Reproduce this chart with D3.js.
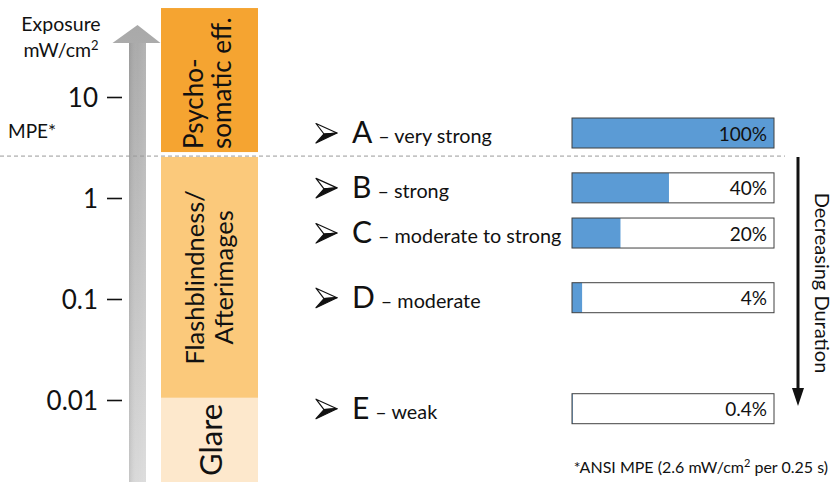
<!DOCTYPE html>
<html>
<head>
<meta charset="utf-8">
<script src="https://cdn.jsdelivr.net/npm/d3@7"></script>
<style>
  html, body { margin: 0; padding: 0; background: #fff; }
  svg { display: block; font-family: Lato, "Open Sans", sans-serif; }
</style>
</head>
<body>
<script>
// ---- data ----
const tickValues = [10, 1, 0.1, 0.01];
const tickLabels = ["10", "1", "0.1", "0.01"];
const mpeValue = 2.6;

const zoneLines = [["Psycho-", "somatic eff."], ["Flashblindness/", "Afterimages"], ["Glare"]];
const zoneHigh = [76, 2.55, 0.0105];
const zoneLow = [2.85, 0.0105, 0.0015];
const zoneColors = ["#F5A431", "#FBC97B", "#FDE8CC"];

const levelLetters = ["A", "B", "C", "D", "E"];
const levelNames = ["very strong", "strong", "moderate to strong", "moderate", "weak"];
const levelExposure = [4.4, 1.26, 0.45, 0.103, 0.0082];
const barLabels = ["100%", "40%", "20%", "4%", "0.4%"];
const barFill = [100, 48, 24, 5, 0.4];

// ---- chart ----
const W = 834, H = 482;
const svg = d3.select("body").append("svg").attr("width", W).attr("height", H);

const y = d3.scaleLog().domain([0.01, 10]).range([400, 97]);
const x = d3.scaleLinear().domain([0, 100]).range([572, 774]);

const defs = svg.append("defs");
const grad = defs.append("linearGradient").attr("id", "gArrow")
  .attr("x1", 0).attr("y1", 0).attr("x2", 0).attr("y2", 1);
grad.append("stop").attr("offset", "0%").attr("stop-color", "#a9a9a9");
grad.append("stop").attr("offset", "100%").attr("stop-color", "#dadada");
const gradH = defs.append("linearGradient").attr("id", "gShaft")
  .attr("x1", 0).attr("y1", 0).attr("x2", 1).attr("y2", 0);
gradH.append("stop").attr("offset", "0%").attr("stop-color", "#000").attr("stop-opacity", 0.10);
gradH.append("stop").attr("offset", "50%").attr("stop-color", "#fff").attr("stop-opacity", 0.0);
gradH.append("stop").attr("offset", "100%").attr("stop-color", "#fff").attr("stop-opacity", 0.1);

// gray exposure arrow
const ax = 137.5;
svg.append("path")
  .attr("d", `M${ax - 8.5},${H} L${ax - 8.5},43 L${ax - 25},43 L${ax},25 L${ax + 23},43 L${ax + 8.5},43 L${ax + 8.5},${H} Z`)
  .attr("fill", "url(#gArrow)");
svg.append("rect").attr("x", ax - 8.5).attr("y", 43).attr("width", 17).attr("height", H - 43)
  .attr("fill", "url(#gShaft)");

// axis
const axis = d3.axisLeft(y).tickValues(tickValues)
  .tickFormat((d, i) => tickLabels[i]).tickSize(15).tickPadding(9);
const gAxis = svg.append("g").attr("transform", "translate(122,0)").call(axis);
gAxis.select(".domain").remove();
gAxis.selectAll(".tick line").attr("stroke", "#111").attr("stroke-width", 1.6);
gAxis.selectAll(".tick text").attr("fill", "#111").attr("font-size", 26)
  .attr("font-family", "Lato, sans-serif").attr("dy", "0.35em");

// axis title
const title = svg.append("text").attr("x", 61).attr("y", 31).attr("text-anchor", "middle")
  .attr("font-size", 19.5).attr("fill", "#111");
title.append("tspan").text("Exposure");
const t2 = svg.append("text").attr("x", 61).attr("y", 57).attr("text-anchor", "middle")
  .attr("font-size", 19.5).attr("fill", "#111");
t2.append("tspan").text("mW/cm");
t2.append("tspan").attr("font-size", 13).attr("dy", -7).text("2");

svg.append("text").attr("x", 8).attr("y", 138).attr("font-size", 19).attr("fill", "#111").text("MPE*");

// zones
const zx0 = 161, zx1 = 258;
zoneLines.forEach((lines, i) => {
  const top = y(zoneHigh[i]), bot = y(zoneLow[i]);
  svg.append("rect").attr("x", zx0).attr("y", top).attr("width", zx1 - zx0).attr("height", bot - top)
    .attr("fill", zoneColors[i]);
});
// zone texts
function vtext(cx, cy, str, size, anchor) {
  svg.append("text").attr("transform", `translate(${cx},${cy}) rotate(-90)`)
    .attr("text-anchor", anchor).attr("font-size", size).attr("fill", "#111").text(str);
}
vtext(203, 149, zoneLines[0][0], 26, "start");
vtext(231, 149, zoneLines[0][1], 26, "start");
const fcy = (y(zoneHigh[1]) + y(zoneLow[1])) / 2;
vtext(204, fcy, zoneLines[1][0], 25.5, "middle");
vtext(233, fcy, zoneLines[1][1], 25.5, "middle");
const gcy = (y(zoneHigh[2]) + H) / 2;
vtext(222, gcy, zoneLines[2][0], 31, "middle");

// MPE dashed line
svg.append("line").attr("x1", 0).attr("x2", 785).attr("y1", y(mpeValue)).attr("y2", y(mpeValue))
  .attr("stroke", "#9a9a9a").attr("stroke-width", 1).attr("stroke-dasharray", "4,3");

// rows
const rows = svg.selectAll("g.row").data(levelLetters).enter().append("g").attr("class", "row")
  .attr("transform", (d, i) => `translate(0,${y(levelExposure[i])})`);

// 3D arrowhead markers
const tipX = 337;
rows.append("path")
  .attr("d", `M${tipX - 21},-9.5 L${tipX},0 L${tipX - 13},1 Z`)
  .attr("fill", "#fff").attr("stroke", "#111").attr("stroke-width", 1.2).attr("stroke-linejoin", "round");
rows.append("path")
  .attr("d", `M${tipX - 13},1 L${tipX},0 L${tipX - 21},10 Z`)
  .attr("fill", "#111").attr("stroke", "#111").attr("stroke-width", 1.2).attr("stroke-linejoin", "round");

const lbl = rows.append("text").attr("x", 352).attr("y", 10).attr("fill", "#111");
lbl.append("tspan").attr("font-size", 30).text(d => d);
lbl.append("tspan").attr("font-size", 19.8).attr("dx", 6).text((d, i) => "– " + levelNames[i]);

// bars
rows.append("rect").attr("x", x(0)).attr("y", -15).attr("width", x(100) - x(0)).attr("height", 30)
  .attr("fill", "#fff");
rows.append("rect").attr("x", x(0)).attr("y", -15).attr("width", (d, i) => x(barFill[i]) - x(0)).attr("height", 30)
  .attr("fill", "#5B9BD5");
rows.append("rect").attr("x", x(0)).attr("y", -15).attr("width", x(100) - x(0)).attr("height", 30)
  .attr("fill", "none").attr("stroke", "#404040").attr("stroke-width", 1);
rows.append("text").attr("x", 767).attr("y", 7.5).attr("text-anchor", "end").attr("font-size", 19)
  .attr("fill", "#111").text((d, i) => barLabels[i]);

// decreasing duration arrow
const dx = 798;
svg.append("line").attr("x1", dx).attr("x2", dx).attr("y1", 157).attr("y2", 392)
  .attr("stroke", "#111").attr("stroke-width", 3);
svg.append("path").attr("d", `M${dx - 6},388 L${dx + 6},388 L${dx},406 Z`).attr("fill", "#111");
svg.append("text").attr("transform", `translate(815,283) rotate(90)`).attr("text-anchor", "middle")
  .attr("font-size", 20).attr("fill", "#111").text("Decreasing Duration");

// footnote
const fn = svg.append("text").attr("x", 828).attr("y", 473).attr("text-anchor", "end")
  .attr("font-size", 16).attr("fill", "#111");
fn.append("tspan").text("*ANSI MPE (2.6 mW/cm");
fn.append("tspan").attr("font-size", 11).attr("dy", -6).text("2");
fn.append("tspan").attr("dy", 6).text(" per 0.25 s)");
</script>
</body>
</html>
